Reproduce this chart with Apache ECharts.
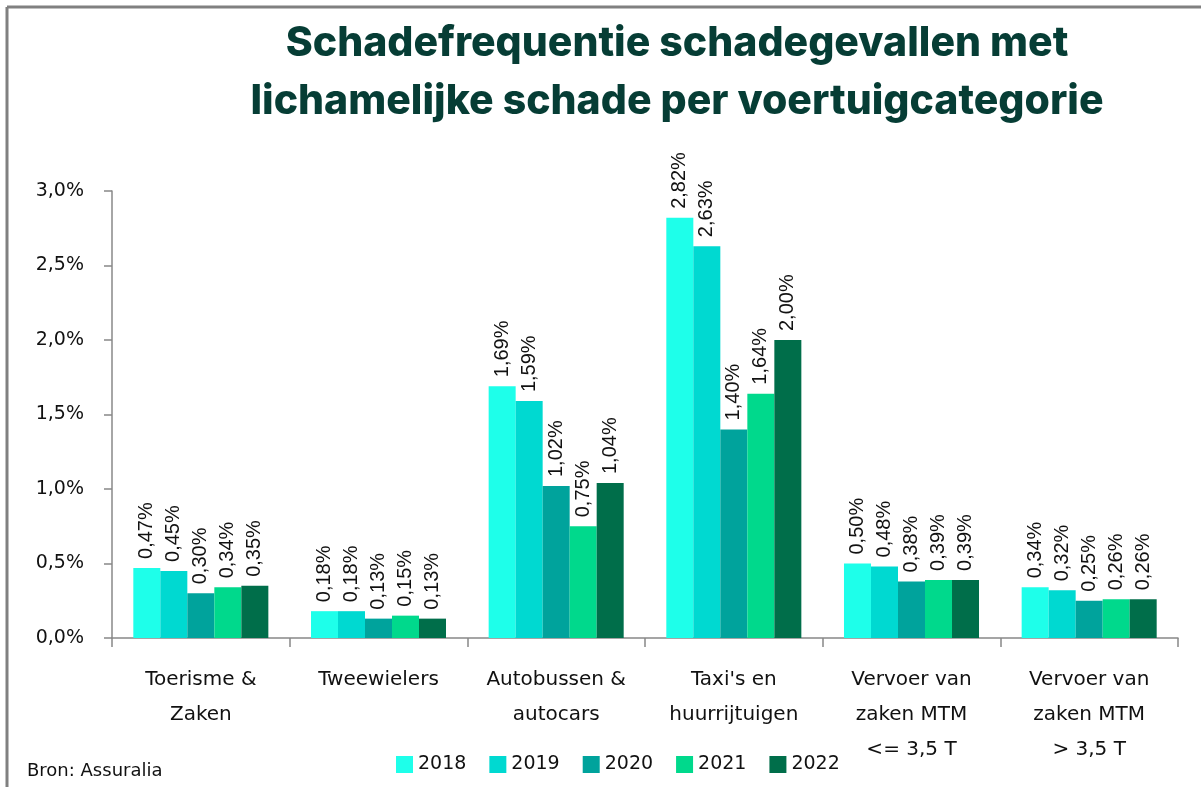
<!DOCTYPE html>
<html>
<head>
<meta charset="utf-8">
<script src="https://cdn.jsdelivr.net/npm/echarts@6/dist/echarts.min.js"></script>
<style>
  html, body { margin: 0; padding: 0; background: #fff; }
  #chart { width: 1201px; height: 787px; }
</style>
</head>
<body>
<div id="chart"></div>
<script>
var categories = [
    'Toerisme &\nZaken',
    'Tweewielers',
    'Autobussen &\nautocars',
    "Taxi's en\nhuurrijtuigen",
    'Vervoer van\nzaken MTM\n<= 3,5 T',
    'Vervoer van\nzaken MTM\n> 3,5 T'
];
var years = ['2018', '2019', '2020', '2021', '2022'];
var colors = ['#1effea', '#00d9d1', '#00a39c', '#00d98c', '#006e4a'];

var v2018 = [0.47, 0.18, 1.69, 2.82, 0.50, 0.34];
var v2019 = [0.45, 0.18, 1.59, 2.63, 0.48, 0.32];
var v2020 = [0.30, 0.13, 1.02, 1.40, 0.38, 0.25];
var v2021 = [0.34, 0.15, 0.75, 1.64, 0.39, 0.26];
var v2022 = [0.35, 0.13, 1.04, 2.00, 0.39, 0.26];
var values = [v2018, v2019, v2020, v2021, v2022];

var axisFont = '"DejaVu Sans", sans-serif';

var series = years.map(function (y, i) {
    return {
        name: y,
        type: 'bar',
        data: values[i],
        barGap: '0%',
        barCategoryGap: '24%',
        itemStyle: { color: colors[i] },
        label: {
            show: true,
            position: 'top',
            rotate: 90,
            align: 'left',
            verticalAlign: 'middle',
            distance: 9,
            fontFamily: '"Liberation Sans", Arial, sans-serif',
            fontSize: 20,
            color: '#111',
            formatter: function (p) {
                return p.value.toFixed(2).replace('.', ',') + '%';
            }
        }
    };
});

var option = {
    backgroundColor: '#fff',
    animation: false,
    title: {
        text: 'Schadefrequentie schadegevallen met\nlichamelijke schade per voertuigcategorie',
        left: 672,
        top: 10,
        textAlign: 'center',
        textStyle: {
            fontFamily: 'Inter, "Open Sans", sans-serif',
            fontWeight: 800,
            fontSize: 41,
            lineHeight: 58,
            color: '#063d35'
        }
    },
    grid: {
        left: 112,
        right: 23,
        top: 191,
        bottom: 149
    },
    legend: {
        bottom: 8,
        left: 391,
        itemWidth: 17,
        itemHeight: 17,
        itemGap: 23,
        icon: 'rect',
        textStyle: {
            fontFamily: axisFont,
            fontSize: 19,
            color: '#111'
        },
        data: years
    },
    xAxis: {
        type: 'category',
        data: categories,
        axisLine: { lineStyle: { color: '#888', width: 1.5 } },
        axisTick: { show: true, length: 9, lineStyle: { color: '#888', width: 1.5 } },
        axisLabel: {
            interval: 0,
            margin: 24,
            fontFamily: axisFont,
            fontSize: 20,
            lineHeight: 35,
            color: '#111'
        }
    },
    yAxis: {
        type: 'value',
        min: 0,
        max: 3,
        interval: 0.5,
        splitLine: { show: false },
        axisLine: { show: true, lineStyle: { color: '#888', width: 1.5 } },
        axisTick: { show: true, inside: false, length: 8, lineStyle: { color: '#888', width: 1.5 } },
        axisLabel: {
            margin: 28,
            fontFamily: axisFont,
            fontSize: 19,
            color: '#111',
            formatter: function (v) {
                return v.toFixed(1).replace('.', ',') + '%';
            }
        }
    },
    graphic: [
        {
            type: 'line',
            shape: { x1: 7, y1: 7, x2: 1201, y2: 7 },
            style: { stroke: '#808080', lineWidth: 3 }
        },
        {
            type: 'line',
            shape: { x1: 7, y1: 7, x2: 7, y2: 787 },
            style: { stroke: '#808080', lineWidth: 3 }
        },
        {
            type: 'text',
            left: 27,
            top: 762,
            style: {
                text: 'Bron: Assuralia',
                font: '18px "DejaVu Sans", sans-serif',
                fill: '#111'
            }
        }
    ],
    series: series
};

var chart = echarts.init(document.getElementById('chart'));
chart.setOption(option);
</script>
</body>
</html>
